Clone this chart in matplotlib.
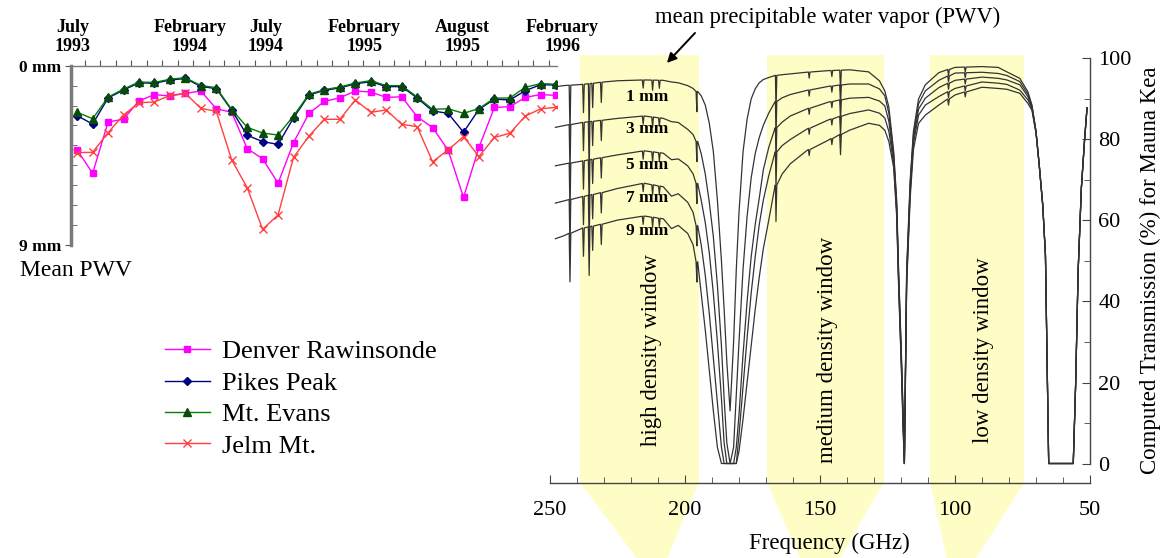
"""Mean PWV time series (left) and computed Mauna Kea transmission spectra (right)."""

import matplotlib

matplotlib.use("Agg")

import matplotlib.pyplot as plt
import matplotlib.transforms as mtransforms
from matplotlib.patches import Polygon
import numpy as np

plt.rcParams["font.family"] = ["Liberation Serif", "DejaVu Serif"]

# ---- left panel: monthly mean PWV (mm), July 1993 .. February 1996 ----
MONTH_INDEX = np.arange(32)
MONTH_LABELS = ["July\n1993", "February\n1994", "July\n1994", "February\n1995", "August\n1995", "February\n1996"]

DENVER = [4.23, 5.40, 2.83, 2.68, 1.77, 1.45, 1.52, 1.39, 1.27, 2.16, 2.34, 4.16, 4.67, 5.90, 3.86, 2.39,
          1.79, 1.61, 1.27, 1.32, 1.59, 1.56, 2.56, 3.11, 4.23, 6.61, 4.10, 2.09, 2.06, 1.59, 1.45, 1.49]
PIKES = [2.51, 2.93, 1.62, 1.22, 0.86, 0.88, 0.72, 0.64, 1.04, 1.15, 2.24, 3.49, 3.81, 3.95, 2.62, 1.47,
         1.24, 1.11, 0.91, 0.80, 1.05, 1.05, 1.62, 2.27, 2.39, 3.34, 2.19, 1.68, 1.72, 1.25, 0.95, 0.97]
EVANS = [2.34, 2.66, 1.58, 1.17, 0.82, 0.84, 0.68, 0.60, 1.00, 1.10, 2.20, 3.09, 3.38, 3.48, 2.52, 1.43,
         1.20, 1.07, 0.87, 0.75, 1.00, 1.00, 1.57, 2.19, 2.16, 2.39, 2.15, 1.63, 1.62, 1.08, 0.90, 0.93]
JELM = [4.36, 4.35, 3.36, 2.47, 1.86, 1.82, 1.49, 1.39, 2.14, 2.29, 4.73, 6.12, 8.21, 7.49, 4.60, 3.53,
        2.69, 2.69, 1.72, 2.34, 2.22, 2.94, 3.06, 4.82, 4.23, 3.56, 4.56, 3.60, 3.39, 2.53, 2.16, 2.09]

# ---- right panel: computed transmission (%) for 1, 3, 5, 7, 9 mm PWV ----
FREQ_GHZ = [248, 245, 238, 230, 225, 215, 208, 205, 202.5, 199, 197,
            195.5, 194, 192.5, 191, 189.5, 188, 186.5, 185.5, 184.5, 183.3,
            182, 181, 180, 178.5, 177, 175.5, 174, 172.5, 171, 169, 166.5, 164, 161, 155, 147, 139, 132, 128,
            126, 124.5, 122.7, 121.6, 120.9, 119.8, 119.2, 118.75, 118.4, 117.9, 116.6, 115.4, 113.5, 111, 106, 100,
            90, 84, 80.8, 76, 73, 71.5, 70, 68.8, 67.5, 66.5, 65.3, 56.2, 55.3, 54.4, 53.2, 52, 51.1]
TRANS_1MM = [93.0, 93.3, 93.6, 94.2, 94.5, 94.7, 94.6, 94.2, 94.0, 93.3, 92.6,
             91.8, 90.8, 88.5, 84.0, 77.0, 65.0, 50.0, 38.0, 25.0, 13.0,
             30.0, 48.0, 62.0, 77.0, 85.0, 90.0, 92.5, 94.0, 94.8, 95.3, 95.8, 96.0, 96.2, 96.6, 97.0, 97.2, 96.7, 94.5,
             92.0, 88.0, 77.0, 65.0, 48.0, 26.0, 12.0, 0.0, 20.0, 48.0, 70.0, 82.0, 90.0, 93.5, 96.5, 97.8,
             98.0, 97.8, 96.7, 95.1, 91.8, 88.5, 82.0, 73.7, 63.8, 51.5, 0.0, 0.0, 20.0, 47.4, 68.0, 80.0, 87.8]
TRANS_3MM = [83.0, 83.4, 84.2, 84.8, 85.2, 85.8, 85.2, 84.4, 84.2, 82.5, 81.2,
             79.4, 76.5, 71.5, 64.5, 56.0, 44.0, 29.0, 16.0, 5.0, 0.0,
             4.0, 17.0, 30.0, 48.0, 61.0, 70.5, 76.5, 80.5, 83.5, 86.5, 89.3, 90.3, 91.1, 92.1, 93.1, 93.7, 93.7, 92.5,
             90.8, 86.5, 76.0, 64.0, 47.0, 25.0, 11.0, 0.0, 20.0, 47.0, 69.0, 81.0, 88.8, 92.0, 94.6, 96.4,
             96.6, 96.3, 95.8, 94.3, 91.2, 88.2, 82.0, 73.7, 63.8, 51.5, 0.0, 0.0, 20.0, 47.4, 68.0, 80.0, 87.8]
TRANS_5MM = [73.5, 73.9, 74.7, 75.6, 76.2, 77.2, 76.6, 75.0, 75.2, 73.5, 71.5,
             69.0, 65.0, 59.5, 52.0, 42.0, 30.0, 16.0, 5.0, 0.0, 0.0,
             0.0, 4.0, 12.0, 27.0, 40.0, 51.0, 59.0, 65.5, 72.5, 78.0, 82.8, 84.3, 85.8, 87.5, 89.2, 90.2, 90.4, 89.5,
             88.3, 84.5, 75.0, 63.0, 46.0, 24.0, 10.0, 0.0, 20.0, 46.0, 68.0, 80.0, 87.5, 90.2, 92.8, 94.6,
             95.4, 95.1, 94.7, 93.5, 90.6, 87.9, 82.0, 73.7, 63.8, 51.5, 0.0, 0.0, 20.0, 47.4, 68.0, 80.0, 87.8]
TRANS_7MM = [64.3, 64.8, 65.9, 67.0, 67.9, 69.2, 68.3, 66.0, 66.6, 64.5, 62.0,
             58.5, 54.0, 46.5, 37.0, 26.0, 15.0, 4.0, 0.0, 0.0, 0.0,
             0.0, 0.0, 7.0, 19.0, 31.0, 42.0, 51.0, 59.0, 65.0, 71.0, 76.8, 78.5, 80.0, 82.5, 84.8, 86.4, 87.3, 86.5,
             85.3, 82.0, 74.0, 62.0, 45.0, 23.0, 9.0, 0.0, 19.0, 45.0, 67.0, 79.0, 86.0, 88.5, 90.6, 92.6,
             94.2, 93.9, 93.6, 92.2, 89.8, 87.6, 81.8, 73.7, 63.8, 51.5, 0.0, 0.0, 20.0, 47.4, 68.0, 80.0, 87.8]
TRANS_9MM = [55.5, 56.2, 58.1, 59.2, 60.1, 61.1, 60.4, 58.0, 58.8, 56.8, 54.0,
             49.5, 42.0, 33.0, 23.0, 13.0, 4.0, 0.0, 0.0, 0.0, 0.0,
             0.0, 0.0, 3.0, 11.0, 20.0, 29.0, 38.0, 46.0, 53.0, 60.0, 68.5, 71.5, 74.0, 77.2, 79.8, 82.3, 84.0, 83.5,
             82.3, 79.5, 73.0, 61.0, 44.0, 22.0, 8.0, 0.0, 18.0, 44.0, 65.5, 77.5, 84.0, 86.0, 88.5, 91.0,
             92.9, 92.6, 92.4, 91.4, 88.9, 87.2, 81.5, 73.5, 63.5, 51.0, 0.0, 0.0, 20.0, 47.4, 68.0, 80.0, 87.8]
PWV_LABELS = ["1 mm", "3 mm", "5 mm", "7 mm", "9 mm"]

# narrow absorption lines: centre (GHz) and depth (%)
LINE_GHZ = [242.6, 237.6, 235.5, 234.2, 231.0, 215.5, 212.0, 209.5, 195.6, 166.3, 154.0, 145.6, 142.4, 102.4, 96.2]
LINE_DEPTH = [12, 7, 12, 6, 5, 2, 2.5, 2, 5, 9, 1.5, 1.5, 5, 1.5, 1.2]

WINDOW_NAMES = ["high density window", "medium density window", "low density window"]
WINDOW_EDGES_GHZ = [(238.9, 194.9), (169.6, 126.4), (109.2, 74.3)]
WINDOW_FOOT_GHZ = [(217.9, 206.5), (157.4, 142.6), (103.1, 92.1)]

YELLOW = "#FFFDC6"
CURVE = "#333333"
FIG_W, FIG_H = 1167, 558


def px_box(x0, y0, x1, y1):
    return (x0 / FIG_W, 1 - y1 / FIG_H, (x1 - x0) / FIG_W, (y1 - y0) / FIG_H)


def with_lines(trans):
    """Continuum plus the narrow line dips."""
    freq = np.asarray(FREQ_GHZ, dtype=float)[::-1]
    base = np.asarray(trans, dtype=float)[::-1]
    f_all = list(freq)
    t_all = list(base)
    for f0, depth in zip(LINE_GHZ, LINE_DEPTH):
        level = np.interp(f0, freq, base)
        for df, t in ((-0.3, level), (0.0, max(level - depth, 0.0)), (0.3, level)):
            f_all.append(f0 + df)
            t_all.append(t)
    order = np.argsort(f_all)
    return np.asarray(f_all)[order], np.asarray(t_all)[order]


fig = plt.figure(figsize=(FIG_W / 100, FIG_H / 100), dpi=100, facecolor="white")

# ---------------- left panel ----------------
ax1 = fig.add_axes(px_box(71, 65.7, 557, 245))
ax1.plot(MONTH_INDEX, DENVER, color="#FF00FF", marker="s", ms=5, lw=1, label="Denver Rawinsonde")
ax1.plot(MONTH_INDEX, PIKES, color="#000080", marker="D", ms=4, lw=1, label="Pikes Peak")
ax1.plot(MONTH_INDEX, EVANS, color="#008000", marker="^", ms=5.5, mfc="#0a4a0a", mec="#0a4a0a", lw=1,
         label="Mt. Evans")
ax1.plot(MONTH_INDEX, JELM, color="#FF4040", marker="x", ms=6, mew=1, lw=1, label="Jelm Mt.")
ax1.set_xlim(-0.4, 31.05)
ax1.set_ylim(9, 0)
ax1.set_facecolor("none")
for side in ("right", "bottom"):
    ax1.spines[side].set_visible(False)
ax1.spines["left"].set_linewidth(2.5)
ax1.spines["left"].set_color("#7a7a7a")
ax1.spines["top"].set_linewidth(1.0)
ax1.spines["top"].set_color("#7a7a7a")
ax1.xaxis.tick_top()
ax1.set_xticks(MONTH_INDEX[1:] - 0.5)
ax1.tick_params(axis="x", which="major", direction="out", length=4, color="#555555", labeltop=False)
ax1.set_yticks([0, 9])
ax1.set_yticklabels(["0 mm", "9 mm"], fontsize=12.5, fontweight="bold")
ax1.set_yticks(np.arange(1, 9), minor=True)
ax1.tick_params(axis="y", which="major", direction="out", length=4, pad=3, color="#555555")
ax1.tick_params(axis="y", which="minor", direction="in", length=4, color="#555555")

label_x = [-0.28, 7.29, 12.2, 18.6, 24.95, 31.4]
month_tf = mtransforms.blended_transform_factory(ax1.transData, ax1.transAxes)
for x, text in zip(label_x, MONTH_LABELS):
    ax1.text(x, 1.16, text, transform=month_tf, ha="center", va="center", multialignment="center",
             fontsize=13, fontweight="bold", linespacing=1.2, clip_on=False)

fig.text(20 / FIG_W, 1 - 271 / FIG_H, "Mean PWV", ha="left", va="center", fontsize=17)

ax1.legend(loc="upper left", bbox_to_anchor=(165 / FIG_W, 1 - 340 / FIG_H), bbox_transform=fig.transFigure,
           frameon=False, fontsize=19, handlelength=1.7, handletextpad=0.45, labelspacing=0.3,
           borderpad=0, borderaxespad=0)

# ---------------- right panel ----------------
ax2 = fig.add_axes(px_box(550, 55, 1090, 482.5))
ax2.set_facecolor("none")
ax2.set_xlim(250, 50)
ax2.set_ylim(-4.69, 100.86)

foot_tf = mtransforms.blended_transform_factory(ax2.transData, ax2.transAxes)
foot_y = -(FIG_H - 482.5) / (482.5 - 55)
for name, (hi, lo), (fhi, flo) in zip(WINDOW_NAMES, WINDOW_EDGES_GHZ, WINDOW_FOOT_GHZ):
    ax2.axvspan(hi, lo, color=YELLOW, lw=0, zorder=0)
    ax2.add_patch(Polygon([(hi, 0), (lo, 0), (flo, foot_y), (fhi, foot_y)], closed=True, transform=foot_tf,
                          facecolor=YELLOW, edgecolor="none", clip_on=False, zorder=0))

for trans in (TRANS_1MM, TRANS_3MM, TRANS_5MM, TRANS_7MM, TRANS_9MM):
    f, t = with_lines(trans)
    ax2.plot(f, t, color=CURVE, lw=0.9, zorder=2)

for label, level in zip(PWV_LABELS, [90.5, 82.6, 73.7, 65.6, 57.4]):
    ax2.text(214, level, label, ha="center", va="center", fontsize=12.5, fontweight="bold", zorder=3)

for name, centre in zip(WINDOW_NAMES, [212.4, 147.4, 89.5]):
    ax2.text(centre, 28, name, rotation=90, ha="center", va="center", fontsize=16.5, zorder=3)

ax2.annotate("", xy=(207.4, 98.4), xytext=(195.6, 106.8),
             arrowprops=dict(arrowstyle="-|>", color="black", lw=1.4, mutation_scale=14),
             annotation_clip=False)
fig.text(828 / FIG_W, 1 - 17 / FIG_H, "mean precipitable water vapor (PWV)", ha="center", va="center",
         fontsize=16.3)

for side in ("left", "top"):
    ax2.spines[side].set_visible(False)
ax2.spines["right"].set_bounds(0, 100)
for side in ("right", "bottom"):
    ax2.spines[side].set_color("#444444")
    ax2.spines[side].set_linewidth(1.0)
ax2.yaxis.tick_right()
ax2.set_yticks(np.arange(0, 101, 20))
ax2.set_yticks(np.arange(10, 100, 20), minor=True)
ax2.set_xticks([250, 200, 150, 100, 50])
ax2.set_xticks(np.arange(60, 250, 10), minor=True)
ax2.tick_params(axis="both", which="major", direction="in", length=6, labelsize=16, color="#444444")
ax2.tick_params(axis="both", which="minor", direction="in", length=4, color="#444444")
ax2.tick_params(axis="y", which="major", pad=6)
ax2.tick_params(axis="x", which="major", pad=13)
ax2.set_xlabel("Frequency (GHz)", fontsize=16.5)
ax2.xaxis.set_label_coords((829 - 550) / 540, -(543 - 482.5) / 427.5)
ax2.xaxis.label.set_va("center")
ax2.yaxis.set_label_position("right")
ax2.set_ylabel("Computed Transmission (%) for Mauna Kea", fontsize=16.5, rotation=90)
ax2.yaxis.set_label_coords((1150 - 550) / 540, (482.5 - 270) / 427.5)
ax2.yaxis.label.set_va("center")

fig.savefig("out.png", dpi=100, facecolor="white")
